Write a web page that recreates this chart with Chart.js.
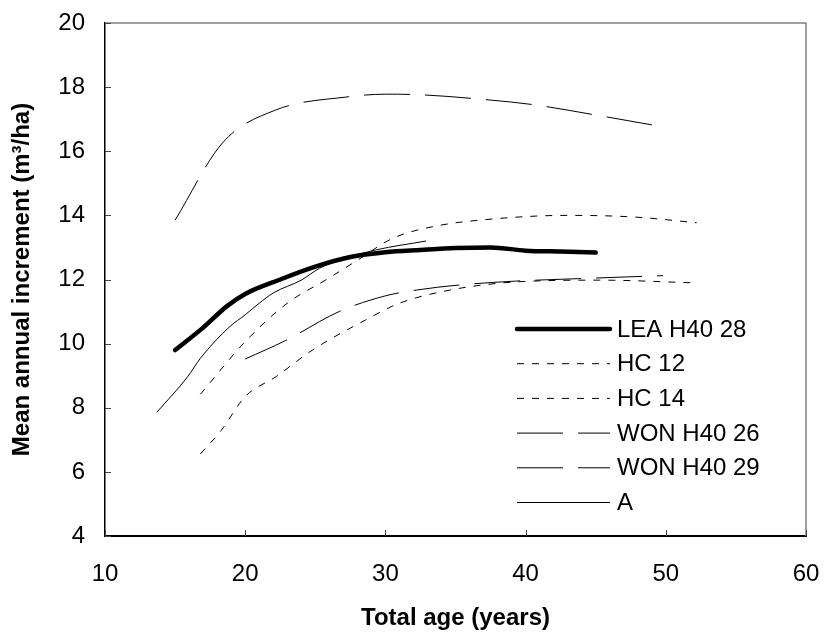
<!DOCTYPE html>
<html>
<head>
<meta charset="utf-8">
<title>Mean annual increment</title>
<script src="https://cdn.jsdelivr.net/npm/chart.js@4/dist/chart.umd.min.js"></script>
<style>
    body { margin: 0; background: #ffffff; }
    #wrap { width: 826px; height: 637px; position: relative; }
</style>
</head>
<body>
<div id="wrap"><canvas id="maiChart"></canvas></div>
<script>
// Series labels (legend order)
const seriesNames = ['LEA H40 28', 'HC 12', 'HC 14', 'WON H40 26', 'WON H40 29', 'A'];

// Total age (years) and mean annual increment (m3/ha) for each curve
const leaAge = [15, 17, 18.7, 20, 22.5, 25, 27.5, 30, 32.5, 35, 37.5, 40, 42.5, 45];
const leaMai = [9.8, 10.5, 11.17, 11.55, 12.0, 12.4, 12.7, 12.85, 12.92, 12.98, 13.0, 12.9, 12.87, 12.84];

const hc12Age = [16.8, 18.3, 20, 22.2, 24.8, 28.6, 31, 34.6, 38, 40.5, 45.3, 51.8];
const hc12Mai = [6.56, 7.3, 8.35, 8.97, 9.8, 10.74, 11.26, 11.67, 11.88, 11.95, 11.98, 11.9];

const hc14Age = [16.8, 20, 23, 25.8, 28, 30.5, 33.4, 38, 43, 47.7, 52.2];
const hc14Mai = [8.42, 10.06, 11.26, 12.0, 12.6, 13.28, 13.65, 13.9, 14.0, 13.95, 13.77];

const won26Age = [20, 22.9, 26.7, 30, 32.2, 35.3, 39.3, 44, 49.8];
const won26Mai = [9.52, 10.1, 11.0, 11.49, 11.67, 11.83, 11.95, 12.03, 12.12];

const won29Age = [15, 18.4, 22.2, 27.4, 30, 32, 37.4, 40.6, 45, 49.3];
const won29Mai = [13.85, 16.27, 17.29, 17.7, 17.78, 17.77, 17.6, 17.45, 17.13, 16.8];

const aAge = [13.7, 15.9, 16.8, 18.9, 20, 21, 22, 24, 25.3, 26.7, 29.3, 32.9];
const aMai = [7.86, 8.97, 9.54, 10.53, 10.9, 11.26, 11.58, 11.98, 12.35, 12.6, 12.92, 13.2];

// Axis tick values
const xTicks = [10, 20, 30, 40, 50, 60];
const yTicks = [4, 6, 8, 10, 12, 14, 16, 18, 20];

function toPoints(ages, values) {
    return ages.map((a, i) => ({ x: a, y: values[i] }));
}

const FONT = 'Arial, "Liberation Sans", sans-serif';

// keep the tick label padding from pushing the plot area inwards
function clearScalePadding(scale) {
    scale.paddingTop = 0;
    scale.paddingBottom = 0;
    scale.paddingLeft = 0;
    scale.paddingRight = 0;
}

// Frame, inner tick marks and the in-plot legend
const decorations = {
    id: 'decorations',
    afterDraw(chart) {
        const ctx = chart.ctx;
        const area = chart.chartArea;
        const xs = chart.scales.x;
        const ys = chart.scales.y;
        ctx.save();

        // top and right border (grey)
        ctx.strokeStyle = '#808080';
        ctx.lineWidth = 1.5;
        ctx.beginPath();
        ctx.moveTo(area.left, area.top);
        ctx.lineTo(area.right, area.top);
        ctx.lineTo(area.right, area.bottom);
        ctx.stroke();

        // inner tick marks
        ctx.strokeStyle = '#444444';
        ctx.lineWidth = 1;
        ctx.beginPath();
        yTicks.forEach(v => {
            let py = Math.round(ys.getPixelForValue(v)) + 0.5;
            ctx.moveTo(area.left, py);
            ctx.lineTo(area.left + 6, py);
        });
        xTicks.forEach(v => {
            let px = Math.round(xs.getPixelForValue(v)) + 0.5;
            ctx.moveTo(px, area.bottom);
            ctx.lineTo(px, area.bottom - 6);
        });
        ctx.stroke();

        // legend
        let lx0 = 517, lx1 = 610, ly = 329, rowGap = 34.7;
        ctx.font = '24px ' + FONT;
        ctx.fillStyle = '#000000';
        ctx.textBaseline = 'middle';
        chart.data.datasets.forEach((ds, i) => {
            let y = ly + i * rowGap;
            ctx.save();
            ctx.strokeStyle = ds.borderColor;
            ctx.lineWidth = ds.borderWidth;
            ctx.lineCap = ds.borderCapStyle || 'butt';
            ctx.setLineDash(ds.borderDash || []);
            ctx.beginPath();
            ctx.moveTo(lx0, y);
            ctx.lineTo(lx1, y);
            ctx.stroke();
            ctx.restore();
            ctx.fillText(ds.label, lx1 + 7, y + 1);
        });

        ctx.restore();
    }
};

let ctx = document.getElementById('maiChart').getContext('2d');

let chart = new Chart(ctx, {
    type: 'line',
    data: {
        datasets: [
            {
                label: seriesNames[0],
                data: toPoints(leaAge, leaMai),
                borderColor: '#000000',
                borderWidth: 4.5,
                borderCapStyle: 'round',
                borderJoinStyle: 'round'
            },
            {
                label: seriesNames[1],
                data: toPoints(hc12Age, hc12Mai),
                borderColor: '#000000',
                borderWidth: 1,
                borderDash: [7, 8]
            },
            {
                label: seriesNames[2],
                data: toPoints(hc14Age, hc14Mai),
                borderColor: '#000000',
                borderWidth: 1,
                borderDash: [7, 8]
            },
            {
                label: seriesNames[3],
                data: toPoints(won26Age, won26Mai),
                borderColor: '#000000',
                borderWidth: 1,
                borderDash: [46, 15]
            },
            {
                label: seriesNames[4],
                data: toPoints(won29Age, won29Mai),
                borderColor: '#000000',
                borderWidth: 1,
                borderDash: [46, 15]
            },
            {
                label: seriesNames[5],
                data: toPoints(aAge, aMai),
                borderColor: '#000000',
                borderWidth: 1
            }
        ]
    },
    options: {
        responsive: true,
        maintainAspectRatio: false,
        animation: false,
        devicePixelRatio: 1,
        layout: { padding: { top: 23, right: 20, left: 0, bottom: 0 } },
        elements: {
            point: { radius: 0 },
            line: { cubicInterpolationMode: 'monotone', fill: false }
        },
        plugins: {
            legend: { display: false },
            tooltip: { enabled: false }
        },
        scales: {
            x: {
                type: 'linear',
                min: 10,
                max: 60,
                afterFit: scale => { scale.height = 101; clearScalePadding(scale); },
                afterBuildTicks: scale => { scale.ticks = xTicks.map(v => ({ value: v })); },
                grid: { display: false, drawTicks: false },
                border: { display: true, color: '#000000', width: 2 },
                ticks: {
                    color: '#000000',
                    padding: 24,
                    font: { family: FONT, size: 24 }
                },
                title: {
                    display: true,
                    text: 'Total age (years)',
                    color: '#000000',
                    font: { family: FONT, size: 24, weight: 'bold' },
                    padding: { top: 0, bottom: 4 }
                }
            },
            y: {
                type: 'linear',
                min: 4,
                max: 20,
                afterFit: scale => { scale.width = 105; clearScalePadding(scale); },
                afterBuildTicks: scale => { scale.ticks = yTicks.map(v => ({ value: v })); },
                grid: { display: false, drawTicks: false },
                border: { display: true, color: '#000000', width: 1.5 },
                ticks: {
                    color: '#000000',
                    padding: 20,
                    font: { family: FONT, size: 24 }
                },
                title: {
                    display: true,
                    text: 'Mean annual increment (m³/ha)',
                    color: '#000000',
                    font: { family: FONT, size: 24, weight: 'bold' },
                    padding: { top: 8, bottom: 0 }
                }
            }
        }
    },
    plugins: [decorations]
});
</script>
</body>
</html>
